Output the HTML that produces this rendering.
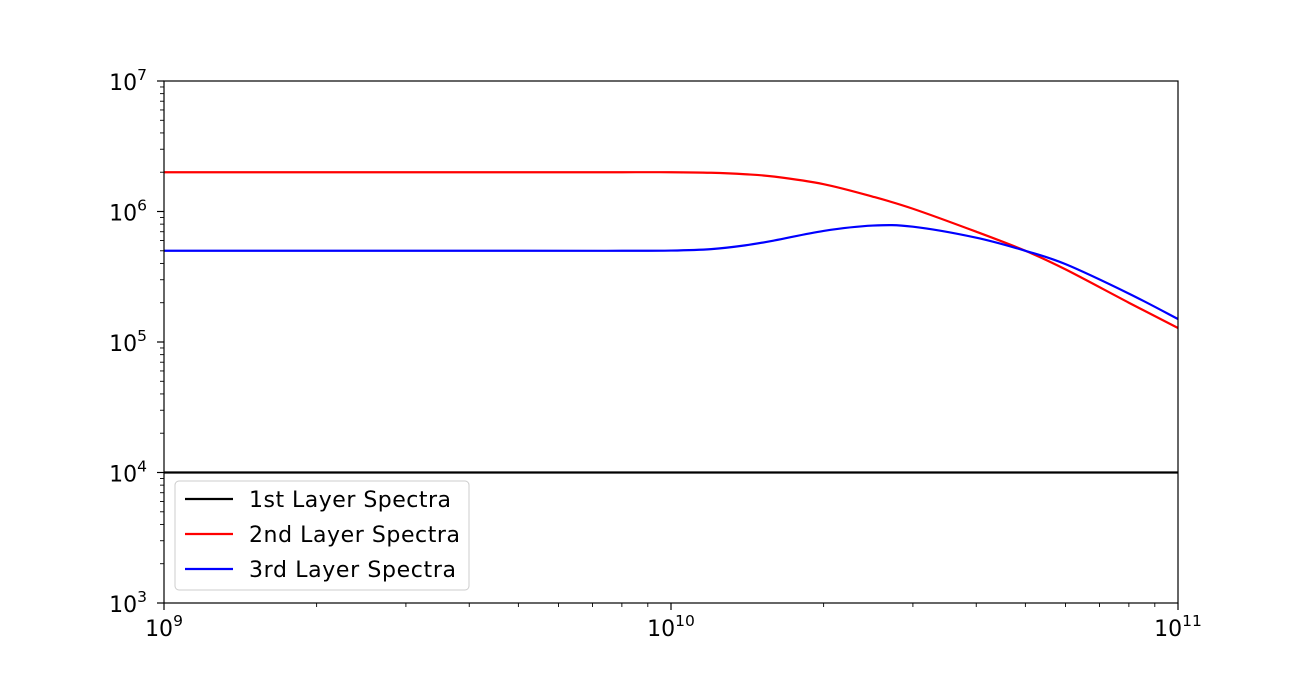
<!DOCTYPE html>
<html><head><meta charset="utf-8"><style>
body{margin:0;background:#fff}
svg text{font-family:"DejaVu Sans","Liberation Sans",sans-serif;fill:#000}
</style></head><body>
<svg id="chart" width="1309" height="677" xmlns="http://www.w3.org/2000/svg">
<rect x="0" y="0" width="1309" height="677" fill="#fff"/>
<g id="ticks"></g>
<g id="series"></g>
<rect x="164" y="81" width="1014" height="522" fill="none" stroke="#000" stroke-width="1.2"/>
<g id="legend">
<rect x="175" y="481" width="294" height="109" rx="4" fill="#fff" fill-opacity="0.8" stroke="#ccc"/>
<line x1="185" y1="499" x2="233" y2="499" stroke="#000" stroke-width="2.2"/>
<text x="249" y="507" font-size="22" textLength="202">1st Layer Spectra</text>
<line x1="185" y1="534" x2="233" y2="534" stroke="#f00" stroke-width="2.2"/>
<text x="249" y="542" font-size="22" textLength="211">2nd Layer Spectra</text>
<line x1="185" y1="569" x2="233" y2="569" stroke="#00f" stroke-width="2.2"/>
<text x="249" y="577" font-size="22" textLength="207">3rd Layer Spectra</text>
</g>
</svg>
<script>
const freqs=[1e9,5e9,8e9,1e10,1.2e10,1.4e10,1.6e10,2e10,2.5e10,3e10,4e10,5e10,6e10,8e10,1e11];
const layer1=[1e4,1e4,1e4,1e4,1e4,1e4,1e4,1e4,1e4,1e4,1e4,1e4,1e4,1e4,1e4];
const layer2=[2e6,2e6,2e6,2e6,1.98e6,1.93e6,1.85e6,1.62e6,1.3e6,1.05e6,7e5,5e5,3.6e5,2.0e5,1.28e5];
const layer3=[5e5,5e5,5e5,5.02e5,5.15e5,5.5e5,6.0e5,7.1e5,7.8e5,7.65e5,6.3e5,5e5,3.95e5,2.35e5,1.5e5];
const xDecades=[9,10,11];
const yDecades=[3,4,5,6,7];
const NS="http://www.w3.org/2000/svg";
const L=164,R=1178,T=81,B=603;
const xs=v=>L+(Math.log10(v)-9)/2*(R-L);
const ys=v=>B-(Math.log10(v)-3)/4*(B-T);
function mk(tag,attrs,parent){const e=document.createElementNS(NS,tag);for(const k in attrs)e.setAttribute(k,attrs[k]);parent.appendChild(e);return e;}
const tg=document.getElementById('ticks');
xDecades.forEach((d,i)=>{
 const x=xs(Math.pow(10,d));
 const t=mk('line',{x1:x,x2:x,y1:B,y2:B+7,stroke:'#000','stroke-width':1.2},tg);
 
 
 const tx=mk('text',{x:x,y:B+33,'font-size':22,'text-anchor':'middle'},tg);
 
 
 tx.textContent='10';
 const s=mk('tspan',{dy:-10,'font-size':15.5},tx);s.textContent=String(d);
 if(i<xDecades.length-1)for(let m=2;m<10;m++){
  const xm=xs(m*Math.pow(10,d));
  const mt=mk('line',{x1:xm,x2:xm,y1:B,y2:B+4,stroke:'#000','stroke-width':0.9},tg);
  
  
 }
});
yDecades.forEach((d,i)=>{
 const y=ys(Math.pow(10,d));
 const t=mk('line',{x1:L-7,x2:L,y1:y,y2:y,stroke:'#000','stroke-width':1.2},tg);
 
 
 const tx=mk('text',{x:147,y:y+9,'font-size':22,'text-anchor':'end'},tg);
 
 
 tx.textContent='10';
 const s=mk('tspan',{dy:-10,'font-size':15.5},tx);s.textContent=String(d);
 if(i<yDecades.length-1)for(let m=2;m<10;m++){
  const ym=ys(m*Math.pow(10,d));
  const mt=mk('line',{x1:L-4,x2:L,y1:ym,y2:ym,stroke:'#000','stroke-width':0.9},tg);
  
  
 }
});
function pathFor(vals){
 const p=freqs.map((f,i)=>[xs(f),ys(vals[i])]);
 let d='M'+p[0][0]+','+p[0][1];
 for(let i=0;i<p.length-1;i++){
  const p0=p[i-1]||p[i],p1=p[i],p2=p[i+1],p3=p[i+2]||p2;
  const c1=[p1[0]+(p2[0]-p0[0])/6,p1[1]+(p2[1]-p0[1])/6];
  const c2=[p2[0]-(p3[0]-p1[0])/6,p2[1]-(p3[1]-p1[1])/6];
  d+=' C'+c1+' '+c2+' '+p2;
 }
 return d;
}
const sg=document.getElementById('series');
[[layer1,'#000','line-1st-layer'],[layer2,'#f00','line-2nd-layer'],[layer3,'#00f','line-3rd-layer']].forEach(([v,c,n])=>{
 const e=mk('path',{d:pathFor(v),fill:'none',stroke:c,'stroke-width':2.2},sg);
 
 
});
</script>
</body></html>
